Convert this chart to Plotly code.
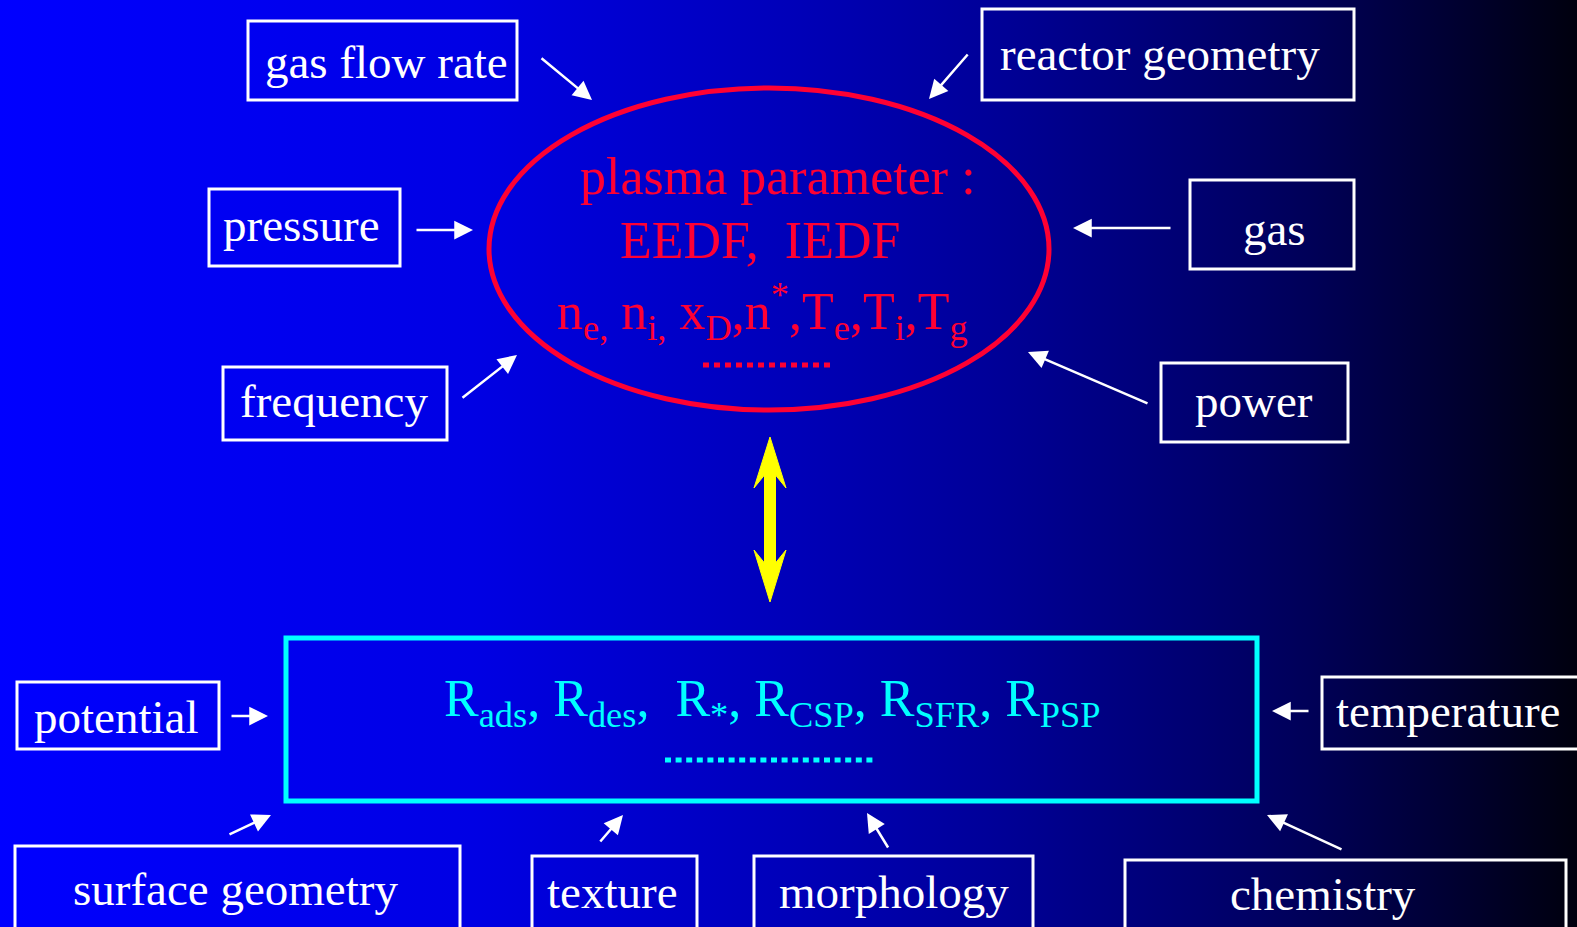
import base64

import plotly.graph_objects as go

W, H = 1577, 927
SERIF = "Liberation Serif, Times New Roman, serif"

# white input boxes (text, box corners, label centre)
box_labels = [
    "gas flow rate", "reactor geometry", "pressure", "gas", "frequency", "power",
    "potential", "temperature", "surface geometry", "texture", "morphology", "chemistry",
]
box_x0 = [248, 982, 209, 1190, 223, 1161, 17, 1322, 15, 532, 754, 1125]
box_x1 = [517, 1354, 400, 1354, 447, 1348, 219, 1600, 460, 697, 1033, 1566]
box_y0 = [21, 9, 189, 180, 367, 363, 682, 677, 846, 856, 856, 860]
box_y1 = [100, 100, 266, 269, 440, 442, 749, 749, 990, 990, 990, 990]
label_x = [386, 1160, 301, 1274, 334, 1254, 116, 1448, 235, 612, 894, 1323]
label_y = [62, 54, 225, 229, 401, 401, 717, 711, 889, 892, 892, 894]

# white arrows: tail -> head
arrow_tail_x = [540, 969, 415, 1172, 461, 1149, 230, 1310, 228, 599, 889, 1343]
arrow_tail_y = [57, 53, 230, 228, 399, 404, 716, 711, 835, 843, 849, 850]
arrow_head_x = [592, 929, 473, 1073, 517, 1028, 268, 1272, 271, 623, 867, 1267]
arrow_head_y = [100, 99, 230, 228, 355, 352, 716, 711, 815, 815, 813, 815]

# plasma parameter ellipse
plasma_lines = [
    "plasma parameter :",
    "EEDF,&nbsp; IEDF",
    "n<sub>e,</sub> n<sub>i,</sub> x<sub>D</sub>,n<sup>*</sup>,T<sub>e</sub>,T<sub>i</sub>,T<sub>g</sub>",
]
plasma_x = [778, 760, 762]
plasma_y = [176, 240, 311]

# surface rate box
rate_text = (
    "R<sub>ads</sub>, R<sub>des</sub>,&nbsp; R<sub>*</sub>, R<sub>CSP</sub>, "
    "R<sub>SFR</sub>, R<sub>PSP</sub>"
)

RED = "#FF0033"
CYAN = "#00FFFF"

svg = (
    '<svg xmlns="http://www.w3.org/2000/svg" width="1577" height="927">'
    '<defs><linearGradient id="g" x1="0" y1="0" x2="1" y2="0">'
    '<stop offset="0" stop-color="rgb(0,0,255)"/>'
    '<stop offset="0.3" stop-color="rgb(0,0,228)"/>'
    '<stop offset="0.5" stop-color="rgb(0,0,185)"/>'
    '<stop offset="0.63" stop-color="rgb(0,0,152)"/>'
    '<stop offset="0.76" stop-color="rgb(0,0,112)"/>'
    '<stop offset="0.83" stop-color="rgb(0,0,88)"/>'
    '<stop offset="0.92" stop-color="rgb(0,0,50)"/>'
    '<stop offset="1" stop-color="rgb(0,0,14)"/>'
    '</linearGradient></defs>'
    '<rect width="1577" height="927" fill="url(#g)"/></svg>'
)
bg_uri = "data:image/svg+xml;base64," + base64.b64encode(svg.encode()).decode()

fig = go.Figure()
fig.add_trace(go.Scatter(x=[0, W], y=[0, H], mode="markers", marker=dict(opacity=0), hoverinfo="skip"))

shapes = []
for x0, x1, y0, y1 in zip(box_x0, box_x1, box_y0, box_y1):
    shapes.append(dict(type="rect", x0=x0, x1=x1, y0=y0, y1=y1, line=dict(color="white", width=3)))

shapes.append(dict(type="circle", x0=489, x1=1049, y0=88, y1=410, line=dict(color=RED, width=5)))
shapes.append(dict(type="line", x0=703, x1=834, y0=365, y1=365, line=dict(color=RED, width=5, dash="6px,5px")))

shapes.append(dict(type="rect", x0=286, x1=1257, y0=638, y1=801, line=dict(color=CYAN, width=5)))
shapes.append(dict(type="line", x0=665, x1=874, y0=760, y1=760, line=dict(color=CYAN, width=5, dash="6px,4.6px")))

# yellow double-headed arrow between plasma and surface
shapes.append(dict(
    type="path",
    path="M770,437 L786,488 L775.5,475 L775.5,563 L786,550 L770,602 L754,550 "
         "L764.5,563 L764.5,475 L754,488 Z",
    fillcolor="#FFFF00", line=dict(color="#FFFF00", width=1),
))

annotations = []
for text, x, y in zip(box_labels, label_x, label_y):
    annotations.append(dict(x=x, y=y, text=text, showarrow=False, font=dict(family=SERIF, size=47, color="white")))

for tx, ty, hx, hy in zip(arrow_tail_x, arrow_tail_y, arrow_head_x, arrow_head_y):
    annotations.append(dict(
        x=hx, y=hy, ax=tx, ay=ty, axref="x", ayref="y", text="", showarrow=True,
        arrowhead=2, arrowsize=1.5, arrowwidth=2.5, arrowcolor="white", standoff=0,
    ))

for text, x, y in zip(plasma_lines, plasma_x, plasma_y):
    annotations.append(dict(x=x, y=y, text=text, showarrow=False, font=dict(family=SERIF, size=52, color=RED)))

annotations.append(dict(x=772, y=702, text=rate_text, showarrow=False, font=dict(family=SERIF, size=52, color=CYAN)))

fig.update_layout(
    width=W,
    height=H,
    margin=dict(l=0, r=0, t=0, b=0),
    paper_bgcolor="#000080",
    plot_bgcolor="rgba(0,0,0,0)",
    showlegend=False,
    xaxis=dict(range=[0, W], visible=False, fixedrange=True),
    yaxis=dict(range=[H, 0], visible=False, fixedrange=True),
    images=[dict(source=bg_uri, xref="paper", yref="paper", x=0, y=1, sizex=1, sizey=1,
                 sizing="stretch", xanchor="left", yanchor="top", layer="below")],
    shapes=shapes,
    annotations=annotations,
)

fig.write_html("out.html", config={"displayModeBar": False},
               post_script="document.body.style.margin='0';")
